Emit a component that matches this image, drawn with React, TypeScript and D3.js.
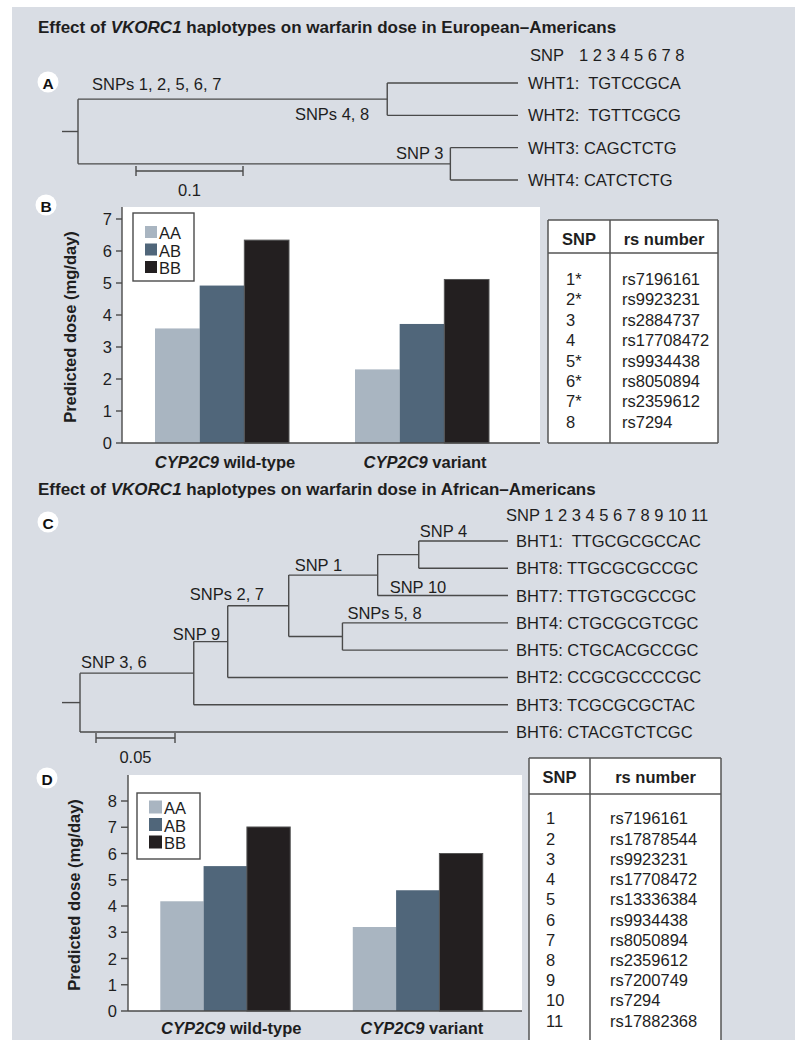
import React from 'react';
import * as d3 from 'd3';

const FONT = '"Liberation Sans", Arial, Helvetica, sans-serif';
const BG = '#d9dde4';
const LINE = '#4a4a4a';
const FS = 16.5;

// ---------- Data ----------
const genotypes = ['AA', 'AB', 'BB'];
const genotypeColors = ['#a9b5c1', '#50667a', '#231f20'];
const cyp2c9Groups = ['wild-type', 'variant'];

const doseEuropeanWild = [3.58, 4.92, 6.34];
const doseEuropeanVariant = [2.3, 3.72, 5.11];
const doseAfricanWild = [4.18, 5.52, 7.01];
const doseAfricanVariant = [3.2, 4.6, 6.0];

const ticksB = [0, 1, 2, 3, 4, 5, 6, 7];
const ticksD = [0, 1, 2, 3, 4, 5, 6, 7, 8];

const snpNumbersA = ['1*', '2*', '3', '4', '5*', '6*', '7*', '8'];
const rsNumbersA = ['rs7196161', 'rs9923231', 'rs2884737', 'rs17708472', 'rs9934438', 'rs8050894', 'rs2359612', 'rs7294'];
const snpNumbersC = ['1', '2', '3', '4', '5', '6', '7', '8', '9', '10', '11'];
const rsNumbersC = ['rs7196161', 'rs17878544', 'rs9923231', 'rs17708472', 'rs13336384', 'rs9934438', 'rs8050894', 'rs2359612', 'rs7200749', 'rs7294', 'rs17882368'];

// Tree A (European-Americans): edges with branch lengths
const treeAEdges = [
  { id: 'rootA', parent: '', len: 0 },
  { id: 'cladeWHT12', parent: 'rootA', len: 0.289 },
  { id: 'WHT1', parent: 'cladeWHT12', len: 0 },
  { id: 'WHT2', parent: 'cladeWHT12', len: 0 },
  { id: 'cladeWHT34', parent: 'rootA', len: 0.348 },
  { id: 'WHT3', parent: 'cladeWHT34', len: 0 },
  { id: 'WHT4', parent: 'cladeWHT34', len: 0 },
];
const leafTextA = ['WHT1:  TGTCCGCA', 'WHT2:  TGTTCGCG', 'WHT3: CAGCTCTG', 'WHT4: CATCTCTG'];
const branchLabelsA = [
  { edge: 'cladeWHT12', text: 'SNPs 1, 2, 5, 6, 7' },
  { edge: 'cladeWHT12', text: 'SNPs 4, 8' },
  { edge: 'cladeWHT34', text: 'SNP 3' },
];
const snpHeaderA = ['1', '2', '3', '4', '5', '6', '7', '8'];
const scaleBarA = { length: 0.1, label: '0.1' };

// Tree C (African-Americans)
const treeCEdges = [
  { id: 'rootC', parent: '', len: 0 },
  { id: 'n36', parent: 'rootC', len: 0.072 },
  { id: 'n9', parent: 'n36', len: 0.0215 },
  { id: 'n27', parent: 'n9', len: 0.0386 },
  { id: 'n1', parent: 'n27', len: 0.0563 },
  { id: 'n4', parent: 'n1', len: 0.026 },
  { id: 'BHT1', parent: 'n4', len: 0 },
  { id: 'BHT8', parent: 'n4', len: 0 },
  { id: 'BHT7', parent: 'n1', len: 0 },
  { id: 'n58', parent: 'n27', len: 0.034 },
  { id: 'BHT4', parent: 'n58', len: 0 },
  { id: 'BHT5', parent: 'n58', len: 0 },
  { id: 'BHT2', parent: 'n9', len: 0 },
  { id: 'BHT3', parent: 'n36', len: 0 },
  { id: 'BHT6', parent: 'rootC', len: 0 },
];
const leafTextC = [
  'BHT1:  TTGCGCGCCAC', 'BHT8: TTGCGCGCCGC', 'BHT7: TTGTGCGCCGC', 'BHT4: CTGCGCGTCGC',
  'BHT5: CTGCACGCCGC', 'BHT2: CCGCGCCCCGC', 'BHT3: TCGCGCGCTAC', 'BHT6: CTACGTCTCGC',
];
const branchLabelsC = [
  { edge: 'n36', text: 'SNP 3, 6' },
  { edge: 'n9', text: 'SNP 9' },
  { edge: 'n27', text: 'SNPs 2, 7' },
  { edge: 'n1', text: 'SNP 1' },
  { edge: 'BHT4', text: 'SNPs 5, 8' },
  { edge: 'BHT7', text: 'SNP 10' },
  { edge: 'BHT1', text: 'SNP 4' },
];
const snpHeaderC = ['1', '2', '3', '4', '5', '6', '7', '8', '9', '10', '11'];
const scaleBarC = { length: 0.05, label: '0.05' };

// ---------- Layout (positions / styles) ----------
const placementsA = [
  { ref: 'parent', anchor: 'start', dx: 14, dy: -15 },
  { ref: 'node', anchor: 'end', dx: -18, dy: 15 },
  { ref: 'node', anchor: 'end', dx: -7, dy: -11 },
];
const placementsC = [
  { ref: 'parent', anchor: 'start', dx: 1, dy: -11 },
  { ref: 'parent', anchor: 'start', dx: -21, dy: -8 },
  { ref: 'parent', anchor: 'start', dx: -38, dy: -12 },
  { ref: 'parent', anchor: 'start', dx: 6, dy: -10 },
  { ref: 'parent', anchor: 'start', dx: 5, dy: -10 },
  { ref: 'parent', anchor: 'start', dx: 12, dy: -9 },
  { ref: 'parent', anchor: 'start', dx: 1, dy: -10 },
];

type TreeCfg = {
  edges: any[];
  leafText: string[];
  branchLabels: { edge: string; text: string }[];
  placements: any[];
  xScale: d3.ScaleLinear<number, number>;
  yRange: [number, number];
  tipX: number;
  textDx: number;
  stub: number;
  scaleBar: { length: number; label: string };
  barX: number;
  barY: number;
};

function PhyloTree(cfg: TreeCfg) {
  const root: any = d3
    .stratify<any>()
    .id((d: any) => d.id)
    .parentId((d: any) => (d.parent ? d.parent : null))(cfg.edges);
  root.eachBefore((n: any) => {
    n.dist = n.parent ? n.parent.dist + n.data.len : 0;
  });
  const leaves = root.leaves();
  const yLeaf = d3.scalePoint<string>().domain(leaves.map((l: any) => l.id)).range(cfg.yRange);
  root.eachAfter((n: any) => {
    if (!n.children) {
      n.py = yLeaf(n.id);
      n.px = cfg.tipX;
    } else {
      n.py = (n.children[0].py + n.children[n.children.length - 1].py) / 2;
      n.px = cfg.xScale(n.dist);
    }
  });
  const nodes = root.descendants();
  const byId = new Map(nodes.map((n: any) => [n.id, n]));
  const x0 = cfg.xScale(0);
  const barW = cfg.xScale(cfg.scaleBar.length) - x0;
  return (
    <g stroke={LINE} strokeWidth={1.4} fill="none">
      <line x1={root.px - cfg.stub} x2={root.px} y1={root.py} y2={root.py} />
      {nodes
        .filter((n: any) => n.parent)
        .map((n: any) => (
          <line key={'h' + n.id} x1={n.parent.px} x2={n.px} y1={n.py} y2={n.py} />
        ))}
      {nodes
        .filter((n: any) => n.children)
        .map((n: any) => (
          <line
            key={'v' + n.id}
            x1={n.px}
            x2={n.px}
            y1={n.children[0].py}
            y2={n.children[n.children.length - 1].py}
          />
        ))}
      <g stroke="none" fill="#1e1e1e" fontSize={FS}>
        {leaves.map((l: any, i: number) => (
          <text key={'t' + l.id} x={l.px + cfg.textDx} y={l.py} dominantBaseline="central" style={{ whiteSpace: 'pre' }}>
            {cfg.leafText[i]}
          </text>
        ))}
        {cfg.branchLabels.map((b, i) => {
          const n: any = byId.get(b.edge);
          const p = cfg.placements[i];
          const bx = p.ref === 'parent' ? n.parent.px : n.px;
          return (
            <text key={'b' + i} x={bx + p.dx} y={n.py + p.dy} textAnchor={p.anchor} dominantBaseline="central">
              {b.text}
            </text>
          );
        })}
        <text x={cfg.barX + barW / 2} y={cfg.barY + 19} textAnchor="middle" dominantBaseline="central">
          {cfg.scaleBar.label}
        </text>
      </g>
      <line x1={cfg.barX} x2={cfg.barX + barW} y1={cfg.barY} y2={cfg.barY} />
      <line x1={cfg.barX} x2={cfg.barX} y1={cfg.barY - 5} y2={cfg.barY + 5} />
      <line x1={cfg.barX + barW} x2={cfg.barX + barW} y1={cfg.barY - 5} y2={cfg.barY + 5} />
    </g>
  );
}

type BarCfg = {
  series: number[][];
  ticks: number[];
  plotLeft: number;
  plotRight: number;
  plotTop: number;
  yBottom: number;
  yTopVal: number;
  yTopPx: number;
  bandRange: [number, number];
  padInner: number;
  legend: { x: number; y: number; w: number; h: number; sx: number; sy0: number; sStep: number; ss: number; tx: number };
  titleX: number;
  labelY: number;
  labelDx: number[];
  tickLen: number;
};

function BarPanel(c: BarCfg) {
  const x0 = d3
    .scaleBand<string>()
    .domain(cyp2c9Groups)
    .range(c.bandRange)
    .paddingInner(c.padInner)
    .paddingOuter(c.padInner / 2);
  const x1 = d3.scaleBand<string>().domain(genotypes).range([0, x0.bandwidth()]);
  const y = d3.scaleLinear().domain([0, c.yTopVal]).range([c.yBottom, c.yTopPx]);
  const color = d3.scaleOrdinal<string, string>().domain(genotypes).range(genotypeColors);
  const L = c.legend;
  return (
    <g>
      <rect x={c.plotLeft} y={c.plotTop} width={c.plotRight - c.plotLeft} height={c.yBottom - c.plotTop} fill="#fff" />
      {cyp2c9Groups.map((g, gi) => (
        <g key={g} transform={`translate(${x0(g)},0)`}>
          {genotypes.map((gt, i) => (
            <rect
              key={gt}
              x={x1(gt)}
              y={y(c.series[gi][i])}
              width={x1.bandwidth()}
              height={y(0) - y(c.series[gi][i])}
              fill={color(gt)}
              stroke={gt === 'BB' ? '#555' : 'none'}
              strokeWidth={gt === 'BB' ? 1 : 0}
            />
          ))}
        </g>
      ))}
      <g stroke={LINE} strokeWidth={1.4}>
        <line x1={c.plotLeft} x2={c.plotLeft} y1={c.plotTop} y2={c.yBottom} />
        <line x1={c.plotLeft} x2={c.plotRight} y1={c.yBottom} y2={c.yBottom} />
        {c.ticks.map((t) => (
          <line key={t} x1={c.plotLeft - c.tickLen} x2={c.plotLeft} y1={y(t)} y2={y(t)} />
        ))}
      </g>
      <g fontSize={FS} fill="#1e1e1e">
        {c.ticks.map((t) => (
          <text key={t} x={c.plotLeft - c.tickLen - 4} y={y(t)} textAnchor="end" dominantBaseline="central">
            {t}
          </text>
        ))}
      </g>
      <text
        transform={`translate(${c.titleX},${(c.plotTop + c.yBottom) / 2 + 2}) rotate(-90)`}
        textAnchor="middle"
        dominantBaseline="central"
        fontWeight="bold"
        fontSize={FS}
        fill="#1e1e1e"
      >
        Predicted dose (mg/day)
      </text>
      {cyp2c9Groups.map((g, gi) => (
        <text
          key={'l' + g}
          x={(x0(g) as number) + x0.bandwidth() / 2 + c.labelDx[gi]}
          y={c.labelY}
          textAnchor="middle"
          dominantBaseline="central"
          fontWeight="bold"
          fontSize={FS}
          fill="#1e1e1e"
        >
          <tspan fontStyle="italic">CYP2C9</tspan> {g}
        </text>
      ))}
      <rect x={L.x} y={L.y} width={L.w} height={L.h} fill="#fff" stroke={LINE} strokeWidth={1.4} />
      {genotypes.map((gt, i) => (
        <g key={'lg' + gt}>
          <rect x={L.sx} y={L.sy0 + i * L.sStep - L.ss / 2} width={L.ss} height={L.ss} fill={color(gt)} />
          <text x={L.tx} y={L.sy0 + i * L.sStep + 1} dominantBaseline="central" fontSize={FS} fill="#1e1e1e">
            {gt}
          </text>
        </g>
      ))}
    </g>
  );
}

type TableCfg = {
  snps: string[];
  rs: string[];
  left: number;
  right: number;
  top: number;
  bottom: number;
  closed: boolean;
  headDiv: number;
  colDiv: number;
  headY: number;
  rowY0: number;
  rowStep: number;
  snpX: number;
  rsX: number;
};

function SnpTable(t: TableCfg) {
  const rowY = d3.scalePoint<string>().domain(t.snps).range([t.rowY0, t.rowY0 + t.rowStep * (t.snps.length - 1)]);
  return (
    <g>
      <rect x={t.left} y={t.top} width={t.right - t.left} height={t.bottom - t.top} fill="#fff" stroke="none" />
      <g stroke="#555" strokeWidth={1.5}>
        <line x1={t.left} x2={t.right} y1={t.top} y2={t.top} />
        <line x1={t.left} x2={t.left} y1={t.top} y2={t.bottom} />
        <line x1={t.right} x2={t.right} y1={t.top} y2={t.bottom} />
        {t.closed && <line x1={t.left} x2={t.right} y1={t.bottom} y2={t.bottom} />}
        <line x1={t.left} x2={t.right} y1={t.headDiv} y2={t.headDiv} />
        <line x1={t.colDiv} x2={t.colDiv} y1={t.top} y2={t.bottom} />
      </g>
      <g fontSize={FS} fill="#1e1e1e">
        <text x={(t.left + t.colDiv) / 2} y={t.headY} textAnchor="middle" dominantBaseline="central" fontWeight="bold">
          SNP
        </text>
        <text x={(t.colDiv + t.right) / 2} y={t.headY} textAnchor="middle" dominantBaseline="central" fontWeight="bold">
          rs number
        </text>
        {t.snps.map((s, i) => (
          <g key={s}>
            <text x={t.snpX} y={rowY(s)} dominantBaseline="central">
              {s}
            </text>
            <text x={t.rsX} y={rowY(s)} dominantBaseline="central">
              {t.rs[i]}
            </text>
          </g>
        ))}
      </g>
    </g>
  );
}

function PanelLetter({ x, y, letter }: { x: number; y: number; letter: string }) {
  return (
    <g>
      <circle cx={x} cy={y} r={10.5} fill="#fff" />
      <text x={x} y={y + 1} textAnchor="middle" dominantBaseline="central" fontWeight="bold" fontSize={15.5} fill="#111">
        {letter}
      </text>
    </g>
  );
}

function Title({ y, population }: { y: number; population: string }) {
  return (
    <text x={38} y={y} dominantBaseline="central" fontWeight="bold" fontSize={17} fill="#1e1e1e">
      Effect of <tspan fontStyle="italic">VKORC1</tspan> haplotypes on warfarin dose in {population}
    </text>
  );
}

export default function App() {
  const xA = d3.scaleLinear().domain([0, 0.1]).range([78, 185]);
  const xC = d3.scaleLinear().domain([0, 0.05]).range([80, 159]);
  return (
    <svg
      width={795}
      height={1040}
      viewBox="0 0 795 1040"
      style={{ position: 'absolute', left: 0, top: 0, display: 'block' }}
      fontFamily={FONT}
    >
      <rect x={0} y={0} width={795} height={1040} fill="#fff" />
      <rect x={12} y={7} width={783} height={1033} fill={BG} />

      <Title y={27} population="European–Americans" />
      <PanelLetter x={48} y={82} letter="A" />
      <text x={530} y={55} dominantBaseline="central" fontSize={FS} fill="#1e1e1e">SNP</text>
      <text x={579} y={55} dominantBaseline="central" fontSize={FS} fill="#1e1e1e">{snpHeaderA.join(' ')}</text>
      <PhyloTree
        edges={treeAEdges}
        leafText={leafTextA}
        branchLabels={branchLabelsA}
        placements={placementsA}
        xScale={xA}
        yRange={[83, 180]}
        tipX={518}
        textDx={10}
        stub={16}
        scaleBar={scaleBarA}
        barX={136}
        barY={171}
      />

      <PanelLetter x={46} y={205} letter="B" />
      <BarPanel
        series={[doseEuropeanWild, doseEuropeanVariant]}
        ticks={ticksB}
        plotLeft={122}
        plotRight={540}
        plotTop={207}
        yBottom={443}
        yTopVal={7}
        yTopPx={219}
        bandRange={[122, 522]}
        padInner={0.33}
        legend={{ x: 133, y: 213, w: 61, h: 68, sx: 145, sy0: 232, sStep: 17.5, ss: 12, tx: 159 }}
        titleX={70}
        labelY={462}
        labelDx={[3, 3]}
        tickLen={6}
      />
      <SnpTable
        snps={snpNumbersA}
        rs={rsNumbersA}
        left={548}
        right={718}
        top={220}
        bottom={443}
        closed={true}
        headDiv={253}
        colDiv={610}
        headY={239}
        rowY0={279}
        rowStep={20.4}
        snpX={566}
        rsX={622}
      />

      <Title y={489} population="African–Americans" />
      <PanelLetter x={48} y={522} letter="C" />
      <text x={506} y={515} dominantBaseline="central" fontSize={FS} fill="#1e1e1e">
        {'SNP ' + snpHeaderC.join(' ')}
      </text>
      <PhyloTree
        edges={treeCEdges}
        leafText={leafTextC}
        branchLabels={branchLabelsC}
        placements={placementsC}
        xScale={xC}
        yRange={[541, 732]}
        tipX={508}
        textDx={8}
        stub={18}
        scaleBar={scaleBarC}
        barX={96}
        barY={738}
      />

      <PanelLetter x={47} y={778} letter="D" />
      <BarPanel
        series={[doseAfricanWild, doseAfricanVariant]}
        ticks={ticksD}
        plotLeft={128}
        plotRight={522}
        plotTop={775}
        yBottom={1011}
        yTopVal={8}
        yTopPx={801}
        bandRange={[129, 514]}
        padInner={0.325}
        legend={{ x: 137, y: 793, w: 63, h: 66, sx: 149, sy0: 807, sStep: 17.5, ss: 13, tx: 164 }}
        titleX={74}
        labelY={1028}
        labelDx={[6, 4]}
        tickLen={7}
      />
      <SnpTable
        snps={snpNumbersC}
        rs={rsNumbersC}
        left={529}
        right={721}
        top={758}
        bottom={1042}
        closed={false}
        headDiv={794}
        colDiv={590}
        headY={777}
        rowY0={818.3}
        rowStep={20.24}
        snpX={546}
        rsX={610}
      />
    </svg>
  );
}
